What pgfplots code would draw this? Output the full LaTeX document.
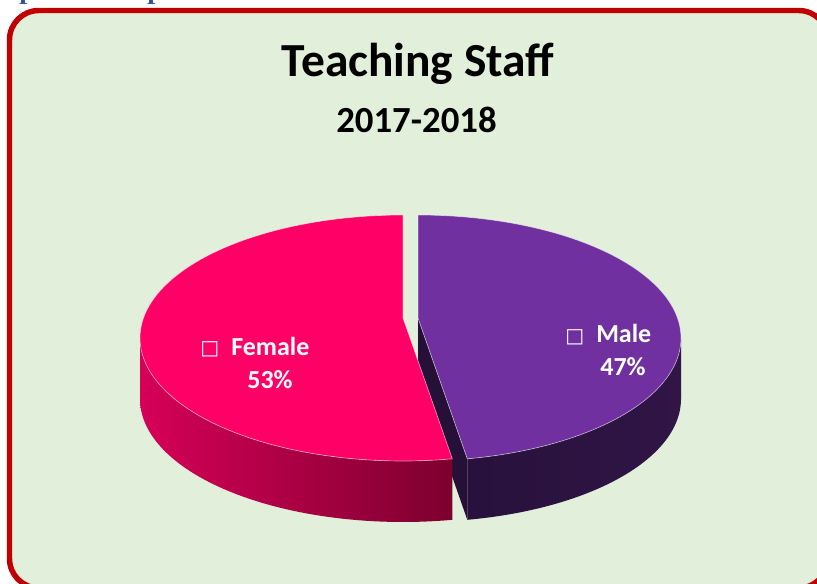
\documentclass[border=0pt]{standalone}
\usepackage{pgfplots}
\pgfplotsset{compat=1.18}
\usepackage{pgfplotstable}
\usepackage{fontspec}
\setmainfont{Carlito}
\newfontfamily\dejavu{DejaVu Sans}
\newfontfamily\timesb{Liberation Serif}

\definecolor{bg}{RGB}{226,239,218}
\definecolor{borderred}{RGB}{192,0,0}
\definecolor{femaletop}{RGB}{255,0,102}
\definecolor{femalesideL}{RGB}{214,0,88}
\definecolor{femalesideR}{RGB}{125,0,46}
\definecolor{maletop}{RGB}{112,48,160}
\definecolor{malesideL}{RGB}{40,17,60}
\definecolor{malesideR}{RGB}{48,21,70}
\definecolor{malecut}{RGB}{38,16,56}
\definecolor{fragblue}{RGB}{47,84,150}

\pgfplotstableread{
label value
Male 47
Female 53
}\piedata

\begin{document}
\begin{tikzpicture}
\pgfplotstablegetelem{0}{value}\of\piedata \let\vMale\pgfplotsretval
\pgfplotstablegetelem{1}{value}\of\piedata \let\vFemale\pgfplotsretval
\pgfmathsetmacro{\fracMale}{\vMale/(\vMale+\vFemale)}
\pgfmathsetmacro{\aSplit}{90-360*\fracMale}
\pgfmathsetmacro{\aSplitP}{\aSplit+360}
\begin{axis}[name=ax, x=0.75pt, y=0.75pt,
  xmin=0, xmax=817, ymin=0, ymax=584, y dir=reverse,
  hide axis, clip=false, enlargelimits=false]
% background and border
\fill[bg, rounded corners=22pt] (9.5,10.5) rectangle (828,588);
\draw[borderred, line width=4.1pt, rounded corners=22pt] (9.5,10.5) rectangle (828,588);
% fragments of text above the chart
\node[anchor=base west, inner sep=0, text=fragblue, font=\timesb\bfseries\fontsize{21}{21}\selectfont] at (19,-1) {p};
\node[anchor=base west, inner sep=0, text=fragblue, font=\timesb\bfseries\fontsize{21}{21}\selectfont] at (147,-1) {p};
% titles
\node[anchor=base, inner sep=0, font=\bfseries\fontsize{35.6}{40}\selectfont] at (418,77) {Teaching Staff};
\node[anchor=base, inner sep=0, font=\bfseries\fontsize{27.6}{32}\selectfont] at (416.5,133) {2017-2018};
% male cut face
\fill[malecut] (418,318) -- ({418+263*cos(\aSplit)},{338-123*sin(\aSplit)})
  -- ({418+263*cos(\aSplit)},{399-123*sin(\aSplit)}) -- (418,379) -- cycle;
% male side
\shade[left color=malesideL, right color=malesideR]
  plot[domain=\aSplit:0, samples=60, variable=\t] ({418+263*cos(\t)},{338-123*sin(\t)})
  -- plot[domain=0:\aSplit, samples=60, variable=\t] ({418+263*cos(\t)},{399-123*sin(\t)}) -- cycle;
% female side
\shade[left color=femalesideL, right color=femalesideR]
  plot[domain=180:\aSplitP, samples=60, variable=\t] ({403+263*cos(\t)},{338-123*sin(\t)})
  -- plot[domain=\aSplitP:180, samples=60, variable=\t] ({403+263*cos(\t)},{399-123*sin(\t)}) -- cycle;
% male top
\fill[maletop, draw=white, draw opacity=0.55, line width=0.5pt] (418,318)
  -- plot[domain=90:\aSplit, samples=100, variable=\t] ({418+263*cos(\t)},{338-123*sin(\t)}) -- cycle;
% female top
\fill[femaletop, draw=white, draw opacity=0.55, line width=0.5pt] (403,318)
  -- plot[domain=90:\aSplitP, samples=100, variable=\t] ({403+263*cos(\t)},{338-123*sin(\t)}) -- cycle;
% labels
\node[anchor=base west, inner sep=0, text=white, font=\dejavu\fontsize{15}{15}\selectfont] at (200,354) {□};
\node[anchor=base west, inner sep=0, text=white, font=\bfseries\fontsize{19.5}{22}\selectfont] at (231,356) {Female};
\node[anchor=base, inner sep=0, text=white, font=\bfseries\fontsize{19.5}{22}\selectfont] at (270,388) {53\%};
\node[anchor=base west, inner sep=0, text=white, font=\dejavu\fontsize{15}{15}\selectfont] at (565,343) {□};
\node[anchor=base west, inner sep=0, text=white, font=\bfseries\fontsize{19.5}{22}\selectfont] at (596,343) {Male};
\node[anchor=base, inner sep=0, text=white, font=\bfseries\fontsize{19.5}{22}\selectfont] at (623,375) {47\%};
\end{axis}
\pgfresetboundingbox
\useasboundingbox (ax.south west) rectangle (ax.north east);
\end{tikzpicture}
\end{document}
